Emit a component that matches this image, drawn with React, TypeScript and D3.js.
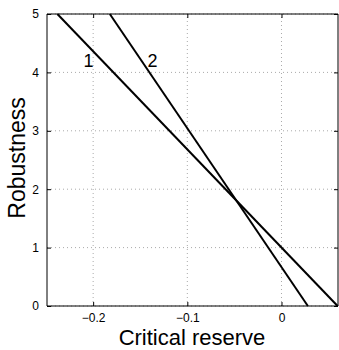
import { useEffect, useRef } from "react";
import * as d3 from "d3";

// data
const line1X = [-0.238, 0.0596];
const line1Y = [5, 0];
const line2X = [-0.1823, 0.028];
const line2Y = [5, 0];
const xTicks = [-0.2, -0.1, 0];
const yTicks = [0, 1, 2, 3, 4, 5];
const curveLabels = ["1", "2"];
const labelPos = [
  [-0.205, 4.1],
  [-0.137, 4.1],
];

const FONT = "'Liberation Sans', Arial, sans-serif";

export default function App() {
  const svgRef = useRef<SVGSVGElement>(null);

  useEffect(() => {
    const width = 339,
      height = 350;
    const marginLeft = 47,
      marginRight = 1,
      marginTop = 14,
      marginBottom = 44;

    const x = d3
      .scaleLinear()
      .domain([-0.249, 0.06])
      .range([marginLeft, width - marginRight]);
    const y = d3
      .scaleLinear()
      .domain([0, 5])
      .range([height - marginBottom, marginTop]);

    const svg = d3
      .select(svgRef.current)
      .attr("width", width)
      .attr("height", height)
      .style("font-family", FONT);
    svg.selectAll("*").remove();

    svg
      .append("rect")
      .attr("width", width)
      .attr("height", height)
      .attr("fill", "white");

    // dotted grid
    const grid = svg.append("g").attr("stroke", "#aaa").attr("stroke-dasharray", "1,3");
    grid
      .selectAll("line.gx")
      .data(xTicks)
      .join("line")
      .attr("x1", (d) => x(d))
      .attr("x2", (d) => x(d))
      .attr("y1", y(0))
      .attr("y2", y(5));
    grid
      .selectAll("line.gy")
      .data(yTicks)
      .join("line")
      .attr("x1", x.range()[0])
      .attr("x2", x.range()[1])
      .attr("y1", (d) => y(d))
      .attr("y2", (d) => y(d));

    // axes (ticks inward)
    svg
      .append("g")
      .attr("transform", `translate(0,${y(0)})`)
      .attr("font-family", FONT)
      .call(
        d3
          .axisBottom(x)
          .tickValues(xTicks)
          .tickSize(-4)
          .tickPadding(7)
          .tickFormat((d) => String(+d).replace("-", "\u2212"))
      )
      .call((g) => g.select(".domain").attr("d", `M${x.range()[0]},0H${x.range()[1]}`))
      .selectAll("text")
      .attr("font-size", 12)
      .attr("fill", "#000");

    svg
      .append("g")
      .attr("transform", `translate(0,${y(5)})`)
      .call(d3.axisTop(x).tickValues(xTicks).tickSize(-4).tickFormat(() => ""))
      .call((g) => g.select(".domain").attr("d", `M${x.range()[0]},0H${x.range()[1]}`));

    svg
      .append("g")
      .attr("transform", `translate(${x.range()[0]},0)`)
      .attr("font-family", FONT)
      .call(d3.axisLeft(y).tickValues(yTicks).tickSize(-4).tickPadding(8).tickFormat(d3.format("d")))
      .call((g) => g.select(".domain").attr("d", `M0,${y(0)}V${y(5)}`))
      .selectAll("text")
      .attr("font-size", 12)
      .attr("fill", "#000");

    svg
      .append("g")
      .attr("transform", `translate(${x.range()[1]},0)`)
      .call(d3.axisRight(y).tickValues(yTicks).tickSize(-4).tickFormat(() => ""))
      .call((g) => g.select(".domain").attr("d", `M0,${y(0)}V${y(5)}`));

    // lines
    const lineGen = d3
      .line<[number, number]>()
      .x((d) => x(d[0]))
      .y((d) => y(d[1]));
    const series = [
      d3.zip(line1X, line1Y) as [number, number][],
      d3.zip(line2X, line2Y) as [number, number][],
    ];
    svg
      .selectAll("path.curve")
      .data(series)
      .join("path")
      .attr("class", "curve")
      .attr("d", (d) => lineGen(d))
      .attr("fill", "none")
      .attr("stroke", "#000")
      .attr("stroke-width", 2);

    svg
      .selectAll("text.lab")
      .data(curveLabels)
      .join("text")
      .attr("class", "lab")
      .attr("x", (_, i) => x(labelPos[i][0]))
      .attr("y", (_, i) => y(labelPos[i][1]))
      .attr("text-anchor", "middle")
      .attr("font-size", 18)
      .text((d) => d);

    // axis titles
    svg
      .append("text")
      .attr("x", 192)
      .attr("y", 345)
      .attr("text-anchor", "middle")
      .attr("font-size", 22)
      .text("Critical reserve");

    svg
      .append("text")
      .attr("transform", `translate(25,158) rotate(-90)`)
      .attr("text-anchor", "middle")
      .attr("font-size", 23)
      .text("Robustness");
  }, []);

  return <svg ref={svgRef} style={{ display: "block", position: "absolute", left: 0, top: 0 }}></svg>;
}
